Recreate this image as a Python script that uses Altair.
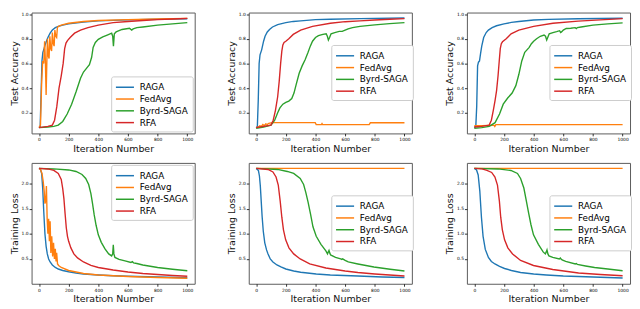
import altair as alt
import pandas as pd

SERIES = ["RAGA", "FedAvg", "Byrd-SAGA", "RFA"]
COLORS = ["#1f77b4", "#ff7f0e", "#2ca02c", "#d62728"]
X_TICKS = [0, 200, 400, 600, 800, 1000]
ACC_TICKS = [0.2, 0.4, 0.6, 0.8, 1.0]
LOSS_TICKS = [0.5, 1.0, 1.5, 2.0]

# ---------------- Panel 1: Test Accuracy (left) ----------------
P1_RAGA_X = [0, 8, 14, 20, 26, 32, 40, 50, 60, 75, 90, 110, 130, 160, 200, 300, 400, 600, 800, 1000]
P1_RAGA_Y = [0.08, 0.09, 0.35, 0.62, 0.69, 0.71, 0.745, 0.78, 0.81, 0.845, 0.87, 0.89, 0.9, 0.91, 0.92, 0.935, 0.945, 0.953, 0.958, 0.962]
P1_FED_X = [0, 10, 18, 25, 32, 38, 43, 48, 53, 57, 63, 68, 73, 79, 85, 90, 96, 102, 107, 113, 119, 124, 132, 150, 200, 300, 400, 600, 800, 1000]
P1_FED_Y = [0.08, 0.10, 0.45, 0.62, 0.60, 0.78, 0.62, 0.345, 0.62, 0.80, 0.66, 0.64, 0.82, 0.72, 0.70, 0.85, 0.76, 0.74, 0.87, 0.82, 0.81, 0.89, 0.90, 0.91, 0.925, 0.94, 0.948, 0.955, 0.96, 0.965]
P1_BYRD_X = [0, 60, 100, 130, 160, 190, 220, 250, 280, 300, 320, 340, 355, 365, 380, 400, 430, 460, 490, 497, 502, 508, 520, 560, 610, 625, 635, 660, 700, 800, 900, 1000]
P1_BYRD_Y = [0.08, 0.085, 0.09, 0.1, 0.13, 0.19, 0.27, 0.37, 0.48, 0.53, 0.56, 0.59, 0.65, 0.73, 0.77, 0.795, 0.815, 0.83, 0.845, 0.82, 0.74, 0.84, 0.855, 0.875, 0.885, 0.87, 0.88, 0.89, 0.895, 0.91, 0.92, 0.93]
P1_RFA_X = [0, 60, 90, 105, 120, 135, 150, 163, 173, 182, 192, 210, 240, 280, 330, 400, 500, 600, 700, 800, 900, 1000]
P1_RFA_Y = [0.08, 0.09, 0.1, 0.14, 0.25, 0.4, 0.5, 0.6, 0.72, 0.765, 0.785, 0.81, 0.845, 0.87, 0.89, 0.91, 0.93, 0.94, 0.948, 0.955, 0.96, 0.965]

# ---------------- Panel 2: Test Accuracy (middle) ----------------
P2_RAGA_X = [0, 8, 14, 20, 26, 37, 50, 60, 75, 90, 110, 145, 200, 250, 300, 400, 500, 700, 1000]
P2_RAGA_Y = [0.08, 0.09, 0.3, 0.6, 0.67, 0.71, 0.78, 0.82, 0.855, 0.875, 0.895, 0.915, 0.93, 0.94, 0.945, 0.955, 0.958, 0.963, 0.968]
P2_FED_X = [0, 15, 25, 35, 45, 55, 65, 75, 85, 100, 120, 250, 398, 405, 440, 444, 448, 600, 762, 770, 1000]
P2_FED_Y = [0.08, 0.085, 0.095, 0.09, 0.105, 0.095, 0.11, 0.105, 0.115, 0.118, 0.12, 0.12, 0.12, 0.104, 0.104, 0.112, 0.104, 0.104, 0.104, 0.119, 0.119]
P2_BYRD_X = [0, 50, 100, 125, 145, 160, 180, 200, 220, 240, 255, 270, 290, 310, 330, 350, 365, 380, 400, 420, 450, 472, 480, 487, 495, 505, 530, 560, 580, 600, 620, 650, 700, 800, 900, 1000]
P2_BYRD_Y = [0.075, 0.085, 0.1, 0.14, 0.2, 0.24, 0.27, 0.285, 0.295, 0.315, 0.36, 0.43, 0.52, 0.58, 0.63, 0.69, 0.74, 0.78, 0.81, 0.825, 0.835, 0.84, 0.82, 0.79, 0.81, 0.84, 0.85, 0.86, 0.86, 0.87, 0.88, 0.89, 0.9, 0.912, 0.922, 0.93]
P2_RFA_X = [0, 50, 100, 115, 130, 145, 155, 165, 173, 180, 188, 200, 220, 250, 300, 380, 500, 600, 700, 800, 900, 1000]
P2_RFA_Y = [0.08, 0.09, 0.1, 0.14, 0.22, 0.33, 0.45, 0.6, 0.7, 0.75, 0.77, 0.78, 0.8, 0.835, 0.87, 0.9, 0.925, 0.938, 0.945, 0.952, 0.958, 0.963]

# ---------------- Panel 3: Test Accuracy (right) ----------------
P3_RAGA_X = [0, 10, 16, 22, 28, 35, 42, 50, 63, 80, 95, 120, 150, 200, 250, 300, 400, 500, 700, 1000]
P3_RAGA_Y = [0.08, 0.09, 0.25, 0.58, 0.61, 0.62, 0.68, 0.74, 0.81, 0.85, 0.87, 0.89, 0.905, 0.92, 0.932, 0.94, 0.952, 0.957, 0.962, 0.966]
P3_FED_X = [0, 50, 100, 125, 132, 138, 145, 1000]
P3_FED_Y = [0.095, 0.096, 0.097, 0.098, 0.1, 0.09, 0.104, 0.104]
P3_BYRD_X = [0, 50, 100, 140, 170, 195, 225, 255, 280, 300, 320, 340, 355, 370, 385, 400, 420, 445, 470, 480, 488, 495, 505, 530, 555, 575, 582, 588, 600, 620, 650, 680, 688, 695, 720, 800, 900, 1000]
P3_BYRD_Y = [0.075, 0.08, 0.09, 0.12, 0.19, 0.27, 0.32, 0.36, 0.42, 0.51, 0.62, 0.69, 0.71, 0.73, 0.76, 0.78, 0.8, 0.82, 0.83, 0.82, 0.79, 0.81, 0.84, 0.85, 0.858, 0.865, 0.85, 0.855, 0.87, 0.883, 0.885, 0.89, 0.882, 0.89, 0.895, 0.91, 0.92, 0.928]
P3_RFA_X = [0, 50, 100, 115, 128, 140, 150, 160, 168, 175, 182, 190, 215, 248, 300, 400, 530, 700, 850, 1000]
P3_RFA_Y = [0.085, 0.09, 0.1, 0.14, 0.22, 0.3, 0.38, 0.5, 0.62, 0.72, 0.76, 0.775, 0.8, 0.84, 0.87, 0.9, 0.925, 0.943, 0.953, 0.963]

# ---------------- Panel 4: Training Loss (left) ----------------
P4_RAGA_X = [0, 10, 18, 25, 32, 40, 48, 56, 65, 75, 90, 110, 130, 160, 200, 250, 300, 400, 500, 600, 800, 1000]
P4_RAGA_Y = [2.30, 2.28, 2.2, 1.9, 1.45, 1.0, 0.75, 0.6, 0.5, 0.44, 0.38, 0.33, 0.3, 0.27, 0.245, 0.22, 0.2, 0.18, 0.165, 0.155, 0.14, 0.125]
P4_FED_X = [0, 10, 20, 28, 35, 40, 45, 50, 55, 60, 65, 70, 75, 80, 86, 92, 98, 104, 110, 115, 119, 125, 132, 150, 200, 300, 400, 600, 800, 1000]
P4_FED_Y = [2.30, 2.28, 2.2, 2.05, 1.85, 1.6, 1.65, 1.95, 1.3, 1.0, 1.3, 0.85, 1.25, 0.62, 0.95, 0.55, 0.82, 0.5, 0.7, 0.45, 0.62, 0.4, 0.37, 0.33, 0.27, 0.21, 0.18, 0.15, 0.13, 0.115]
P4_BYRD_X = [0, 100, 200, 250, 290, 315, 335, 350, 360, 372, 385, 400, 420, 445, 470, 490, 497, 501, 505, 512, 540, 580, 620, 630, 638, 660, 700, 800, 900, 1000]
P4_BYRD_Y = [2.30, 2.29, 2.27, 2.24, 2.18, 2.10, 1.98, 1.8, 1.62, 1.38, 1.17, 0.98, 0.83, 0.7, 0.6, 0.56, 0.6, 0.78, 0.6, 0.53, 0.49, 0.46, 0.43, 0.445, 0.42, 0.41, 0.38, 0.33, 0.295, 0.265]
P4_RFA_X = [0, 60, 100, 130, 150, 160, 168, 176, 184, 192, 200, 215, 235, 260, 300, 350, 400, 500, 600, 700, 800, 900, 1000]
P4_RFA_Y = [2.30, 2.29, 2.26, 2.2, 2.08, 1.9, 1.7, 1.4, 1.12, 0.95, 0.85, 0.72, 0.6, 0.52, 0.44, 0.37, 0.33, 0.28, 0.24, 0.21, 0.19, 0.17, 0.155]

# ---------------- Panel 5: Training Loss (middle) ----------------
P5_RAGA_X = [0, 15, 22, 28, 34, 40, 48, 58, 70, 80, 95, 113, 140, 167, 200, 253, 300, 405, 500, 686, 850, 1000]
P5_RAGA_Y = [2.30, 2.26, 2.15, 1.95, 1.65, 1.35, 1.05, 0.82, 0.68, 0.6, 0.5, 0.44, 0.38, 0.34, 0.3, 0.26, 0.235, 0.2, 0.18, 0.16, 0.14, 0.13]
P5_FED_X = [0, 1000]
P5_FED_Y = [2.302, 2.302]
P5_BYRD_X = [0, 145, 210, 253, 297, 320, 335, 350, 366, 383, 405, 437, 470, 481, 486, 491, 496, 502, 535, 570, 578, 583, 600, 621, 686, 794, 903, 1000]
P5_BYRD_Y = [2.30, 2.28, 2.24, 2.2, 2.1, 1.98, 1.82, 1.63, 1.4, 1.14, 0.95, 0.79, 0.66, 0.6, 0.64, 0.67, 0.62, 0.58, 0.53, 0.5, 0.49, 0.5, 0.47, 0.44, 0.4, 0.34, 0.295, 0.26]
P5_RFA_X = [0, 80, 113, 134, 149, 162, 173, 184, 199, 221, 253, 297, 361, 470, 600, 686, 800, 900, 1000]
P5_RFA_Y = [2.30, 2.28, 2.23, 2.13, 1.97, 1.65, 1.33, 1.08, 0.88, 0.72, 0.6, 0.5, 0.4, 0.32, 0.26, 0.23, 0.2, 0.18, 0.16]

# ---------------- Panel 6: Training Loss (right) ----------------
P6_RAGA_X = [0, 15, 26, 37, 48, 59, 74, 95, 115, 139, 170, 204, 250, 312, 400, 486, 600, 703, 850, 1000]
P6_RAGA_Y = [2.30, 2.27, 2.17, 1.85, 1.33, 0.95, 0.69, 0.53, 0.45, 0.4, 0.35, 0.31, 0.27, 0.23, 0.2, 0.18, 0.16, 0.15, 0.135, 0.12]
P6_FED_X = [0, 1000]
P6_FED_Y = [2.302, 2.302]
P6_BYRD_X = [0, 160, 247, 291, 312, 334, 351, 367, 382, 399, 432, 464, 479, 485, 490, 496, 503, 529, 573, 580, 585, 592, 616, 681, 688, 695, 750, 811, 900, 1000]
P6_BYRD_Y = [2.30, 2.29, 2.26, 2.2, 2.1, 1.91, 1.65, 1.4, 1.18, 0.98, 0.79, 0.64, 0.6, 0.64, 0.68, 0.6, 0.56, 0.53, 0.5, 0.52, 0.5, 0.48, 0.45, 0.4, 0.41, 0.39, 0.36, 0.33, 0.3, 0.265]
P6_RFA_X = [0, 52, 85, 117, 139, 156, 169, 178, 189, 204, 226, 258, 312, 399, 529, 703, 850, 1000]
P6_RFA_Y = [2.30, 2.29, 2.26, 2.22, 2.13, 1.97, 1.65, 1.33, 1.08, 0.88, 0.72, 0.6, 0.47, 0.37, 0.29, 0.22, 0.19, 0.165]

W, H = 166, 123
LEG_W, LEG_H = 80, 57


def build(parts):
    rows = []
    for name, xs, ys in parts:
        for xv, yv in zip(xs, ys):
            rows.append({"iter": xv, "value": yv, "series": name})
    return pd.DataFrame(rows)


def panel(parts, ytitle, ydomain, yticks, where):
    df = build(parts)
    if where == "center":
        leg = alt.Legend(orient="none", legendX=W - LEG_W - 2, legendY=(H - LEG_H) / 2)
    else:
        leg = alt.Legend(orient=where, offset=2)
    return alt.Chart(df).mark_line(clip=True, strokeWidth=1.4).encode(
        x=alt.X("iter:Q", scale=alt.Scale(domain=[-50, 1050], nice=False, zero=False),
                axis=alt.Axis(values=X_TICKS, title="Iteration Number", format="d",
                              titleFontWeight="normal")),
        y=alt.Y("value:Q", scale=alt.Scale(domain=ydomain, nice=False, zero=False),
                axis=alt.Axis(values=yticks, title=ytitle, format=".1f",
                              titleFontWeight="normal")),
        color=alt.Color("series:N", scale=alt.Scale(domain=SERIES, range=COLORS),
                        legend=leg, title=None),
    ).properties(width=W, height=H)


ACC_DOM = [0.033, 1.012]
LOSS_DOM = [0.006, 2.41]

p1 = panel([("RAGA", P1_RAGA_X, P1_RAGA_Y), ("FedAvg", P1_FED_X, P1_FED_Y),
            ("Byrd-SAGA", P1_BYRD_X, P1_BYRD_Y), ("RFA", P1_RFA_X, P1_RFA_Y)],
           "Test Accuracy", ACC_DOM, ACC_TICKS, "bottom-right")
p2 = panel([("RAGA", P2_RAGA_X, P2_RAGA_Y), ("FedAvg", P2_FED_X, P2_FED_Y),
            ("Byrd-SAGA", P2_BYRD_X, P2_BYRD_Y), ("RFA", P2_RFA_X, P2_RFA_Y)],
           "Test Accuracy", ACC_DOM, ACC_TICKS, "center")
p3 = panel([("RAGA", P3_RAGA_X, P3_RAGA_Y), ("FedAvg", P3_FED_X, P3_FED_Y),
            ("Byrd-SAGA", P3_BYRD_X, P3_BYRD_Y), ("RFA", P3_RFA_X, P3_RFA_Y)],
           "Test Accuracy", ACC_DOM, ACC_TICKS, "center")
p4 = panel([("RAGA", P4_RAGA_X, P4_RAGA_Y), ("FedAvg", P4_FED_X, P4_FED_Y),
            ("Byrd-SAGA", P4_BYRD_X, P4_BYRD_Y), ("RFA", P4_RFA_X, P4_RFA_Y)],
           "Training Loss", LOSS_DOM, LOSS_TICKS, "top-right")
p5 = panel([("RAGA", P5_RAGA_X, P5_RAGA_Y), ("FedAvg", P5_FED_X, P5_FED_Y),
            ("Byrd-SAGA", P5_BYRD_X, P5_BYRD_Y), ("RFA", P5_RFA_X, P5_RFA_Y)],
           "Training Loss", LOSS_DOM, LOSS_TICKS, "center")
p6 = panel([("RAGA", P6_RAGA_X, P6_RAGA_Y), ("FedAvg", P6_FED_X, P6_FED_Y),
            ("Byrd-SAGA", P6_BYRD_X, P6_BYRD_Y), ("RFA", P6_RFA_X, P6_RFA_Y)],
           "Training Loss", LOSS_DOM, LOSS_TICKS, "center")

chart = alt.concat(p1, p2, p3, p4, p5, p6, columns=3, spacing={"row": 8, "column": 30}
).resolve_scale(color="independent").resolve_legend(color="independent").properties(
    padding=0
).configure(font="DejaVu Sans", background="white").configure_view(
    stroke="#5a5a5a", strokeWidth=1
).configure_axis(
    grid=False, domain=False, labelFontSize=4.5, titleFontSize=9.6, titleFontWeight="normal",
    tickSize=2.5, tickColor="black", tickWidth=0.8, labelPadding=1, titlePadding=2,
    labelColor="black", titleColor="#111111", labelFont="DejaVu Sans", titleFont="DejaVu Sans"
).configure_legend(
    strokeColor="#cccccc", fillColor="white", cornerRadius=2, padding=4,
    symbolType="M-1.5,0L1.5,0", symbolSize=150, symbolStrokeWidth=1.5, symbolOffset=3,
    labelFontSize=9, labelFont="DejaVu Sans", labelColor="black", labelOffset=8, rowPadding=0
)

chart.save("out.html", embed_options={"renderer": "svg", "actions": False})
